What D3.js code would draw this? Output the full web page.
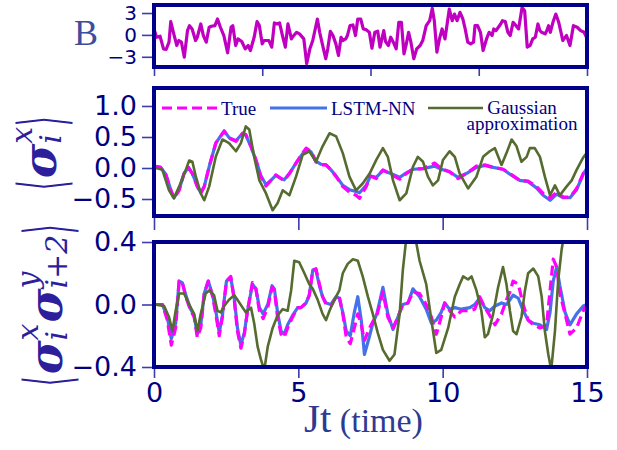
<!DOCTYPE html>
<html><head><meta charset="utf-8">
<script src="https://cdn.jsdelivr.net/npm/d3@7"></script>
<style>html,body{margin:0;padding:0;background:#fff;}svg{display:block;}</style>
</head><body>
<svg id="chart" width="617" height="450"></svg>
<script>
// ---------- data ----------
const driveT = [0,0.09,0.21,0.33,0.42,0.52,0.58,0.70,0.79,0.86,0.95,1.05,1.16,1.23,1.32,1.44,1.50,1.62,1.71,1.81,1.91,1.99,2.11,2.20,2.30,2.42,2.55,2.67,2.73,2.83,2.91,3.04,3.16,3.26,3.34,3.47,3.57,3.65,3.75,3.81,3.90,3.98,4.08,4.17,4.27,4.35,4.45,4.55,4.64,4.76,4.82,4.94,5.04,5.19,5.29,5.40,5.50,5.66,5.74,5.87,5.95,6.02,6.11,6.20,6.30,6.39,6.48,6.54,6.64,6.70,6.79,6.89,6.98,7.06,7.16,7.25,7.34,7.46,7.55,7.65,7.75,7.83,7.96,8.02,8.12,8.20,8.29,8.39,8.48,8.57,8.66,8.73,8.82,8.90,9.00,9.10,9.22,9.31,9.43,9.55,9.64,9.71,9.80,9.89,9.98,10.08,10.23,10.33,10.41,10.50,10.60,10.70,10.78,10.87,10.97,11.07,11.12,11.21,11.31,11.40,11.52,11.61,11.71,11.77,11.85,11.93,12.01,12.07,12.17,12.26,12.34,12.44,12.54,12.63,12.75,12.84,12.93,13.03,13.12,13.21,13.30,13.37,13.43,13.55,13.61,13.67,13.73,13.82,13.92,14.02,14.10,14.16,14.29,14.41,14.53,14.66,14.78,14.90,15.0];
const driveV = [0.82,-0.32,-0.18,-1.91,-2.0,-1.0,1.82,-0.09,-1.45,-0.77,-1.0,-3.05,0.59,1.27,0.82,-0.77,-0.32,1.5,-0.09,-1.0,1.05,1.18,1.27,2.18,1.05,-0.09,-2.45,1.05,1.27,-1.45,-0.55,-0.91,-1.91,-1.45,-2.14,-0.32,1.82,1.27,-1.23,-0.77,-0.77,-0.77,-1.68,1.64,1.5,1.64,-0.09,-1.68,1.5,-0.55,-0.18,0.36,0.14,-0.55,-3.95,-1.91,-0.77,2.18,0.36,-1.91,-3.27,-1.91,0.5,-0.09,-1.23,-2.82,-0.32,-0.77,-0.55,-0.09,1.27,1.36,-0.09,2.18,2.18,0.82,0.73,0.36,-1.82,0.36,0.5,-1.68,0.59,-0.91,-1.45,-0.32,-1.0,-1.91,1.73,1.73,-2.59,-1.45,0.36,-1.0,-3.27,-1.91,-1.45,-0.77,1.27,1.95,3.64,1.95,-2.36,-0.55,0.82,-0.55,3.55,1.95,2.86,1.95,3.09,2.18,0.82,-1.0,-1.23,-1.0,1.27,1.27,0.36,-2.14,-0.55,0.36,-0.09,0.82,0.59,1.05,1.5,1.95,1.82,0.36,-0.09,1.73,1.27,0.82,3.77,3.32,-1.68,-1.45,-0.55,-0.32,1.5,0.59,0.36,0.14,0.59,1.27,0.36,1.73,2.86,1.73,0.36,-0.77,-0.09,-1.45,1.27,1.05,0.59,0.36,-0.45];

const sxT = [0,0.23,0.41,0.58,0.69,0.87,1.04,1.19,1.33,1.50,1.62,1.74,1.91,2.14,2.43,2.60,2.84,3.07,3.18,3.36,3.53,3.70,3.88,4.05,4.22,4.40,4.51,4.69,4.92,5.15,5.27,5.44,5.61,5.79,5.96,6.13,6.31,6.54,6.77,7.00,7.12,7.35,7.50,7.70,7.93,8.16,8.51,8.74,8.97,9.32,9.72,9.95,10.24,10.53,10.82,11.17,11.46,11.75,12.09,12.33,12.67,12.96,13.25,13.48,13.72,13.95,14.18,14.41,14.64,14.87,15];
const sxTrue = [0.03,0.01,-0.11,-0.36,-0.49,-0.36,-0.09,0.01,-0.09,-0.30,-0.41,-0.30,0.02,0.40,0.59,0.48,0.43,0.56,0.54,0.35,0.13,-0.14,-0.29,-0.20,-0.11,-0.17,-0.20,-0.09,0.08,0.24,0.32,0.27,0.10,0.05,0.05,-0.03,-0.14,-0.30,-0.39,-0.44,-0.49,-0.30,-0.13,-0.17,-0.03,-0.09,-0.18,-0.09,-0.02,-0.01,0.08,-0.01,-0.06,-0.17,-0.09,0.03,0.05,0.01,-0.02,-0.09,-0.20,-0.21,-0.30,-0.41,-0.49,-0.39,-0.47,-0.47,-0.33,-0.09,0.02];
const sxLSTM = [0.03,0.01,-0.10,-0.35,-0.48,-0.35,-0.09,0.01,-0.09,-0.29,-0.40,-0.30,0.02,0.40,0.60,0.49,0.44,0.56,0.53,0.34,0.13,-0.12,-0.27,-0.20,-0.12,-0.17,-0.19,-0.09,0.08,0.23,0.30,0.26,0.11,0.06,0.05,-0.03,-0.13,-0.28,-0.35,-0.38,-0.40,-0.28,-0.13,-0.15,-0.04,-0.08,-0.15,-0.08,-0.02,-0.01,0.03,-0.02,-0.06,-0.15,-0.09,0.01,0.04,0.01,-0.02,-0.10,-0.20,-0.22,-0.32,-0.44,-0.52,-0.42,-0.48,-0.48,-0.35,-0.10,0.00];
const sxGaussT = [0,0.29,0.52,0.69,0.87,1.10,1.22,1.33,1.45,1.62,1.74,1.91,2.14,2.37,2.60,2.84,3.01,3.18,3.30,3.47,3.65,3.88,4.11,4.28,4.46,4.69,4.92,5.15,5.38,5.61,5.84,6.08,6.31,6.54,6.77,7.00,7.23,7.47,7.70,7.93,8.10,8.28,8.51,8.74,8.97,9.14,9.32,9.49,9.66,9.84,10.01,10.24,10.42,10.59,10.88,11.17,11.40,11.63,11.81,12.04,12.21,12.39,12.56,12.73,12.91,13.02,13.19,13.37,13.54,13.72,13.89,14.06,14.29,14.47,14.64,14.87,15];
const sxGauss = [0.01,-0.03,-0.36,-0.49,-0.30,-0.03,0.12,0.10,-0.14,-0.41,-0.52,-0.30,0.18,0.46,0.40,0.27,0.40,0.67,0.62,0.18,-0.20,-0.41,-0.68,-0.57,-0.36,-0.44,-0.14,0.21,0.27,0.10,0.35,0.56,0.51,0.24,-0.14,-0.36,-0.25,-0.09,0.13,0.32,0.18,-0.20,-0.52,-0.41,0.02,0.18,0.10,-0.14,-0.28,-0.20,0.13,0.27,0.18,-0.09,-0.33,-0.14,0.18,0.27,0.32,0.05,0.24,0.46,0.35,0.10,0.18,0.32,0.32,0.18,-0.14,-0.44,-0.28,-0.44,-0.30,-0.20,-0.03,0.17,0.25];

const cT = [0,0.29,0.46,0.60,0.75,0.87,0.98,1.10,1.27,1.39,1.50,1.62,1.74,1.88,2.03,2.14,2.26,2.37,2.51,2.66,2.78,2.89,3.01,3.13,3.24,3.41,3.53,3.65,3.78,3.94,4.09,4.17,4.28,4.40,4.51,4.63,4.80,4.98,5.09,5.27,5.38,5.50,5.61,5.73,5.84,5.96,6.13,6.31,6.42,6.54,6.66,6.80,6.94,7.06,7.18,7.29,7.47,7.58,7.72,7.93,8.10,8.28,8.45,8.62,8.80,8.97,9.20,9.43,9.61,9.78,9.95,10.07,10.24,10.42,10.65,10.94,11.11,11.28,11.46,11.63,11.81,12.04,12.21,12.33,12.44,12.62,12.79,12.96,13.14,13.37,13.60,13.72,13.83,13.95,14.06,14.24,14.41,14.64,14.87,15];
const cTrue = [0,0,-0.10,-0.26,-0.15,0.15,0.14,0.05,-0.04,-0.08,-0.21,-0.15,0.07,0.15,0.05,-0.06,-0.20,-0.08,0.15,0.18,0.03,-0.17,-0.28,-0.19,-0.04,0.14,0.10,-0.04,-0.09,-0.02,0.11,0.09,-0.08,-0.19,-0.21,-0.15,-0.08,-0.02,-0.02,0.01,0.06,0.22,0.23,0.13,0.05,0.00,-0.01,0.05,0.05,-0.06,-0.21,-0.25,-0.15,-0.06,-0.13,-0.23,-0.15,-0.11,-0.07,0.08,-0.08,-0.15,-0.08,0.00,0.01,0.08,0.07,0.00,-0.08,-0.19,-0.08,0.01,-0.04,-0.08,-0.04,-0.04,-0.03,0.05,-0.02,-0.07,-0.13,-0.06,0.03,0.08,0.15,0.13,0.00,-0.10,-0.13,-0.15,-0.13,0.09,0.29,0.24,0.07,-0.06,-0.19,-0.15,-0.04,0.00];
const cLSTM = [0,0,-0.08,-0.22,-0.12,0.15,0.14,0.06,-0.03,-0.07,-0.19,-0.13,0.07,0.15,0.06,-0.04,-0.18,-0.07,0.15,0.17,0.04,-0.15,-0.26,-0.18,-0.04,0.13,0.10,-0.02,-0.06,0.00,0.12,0.10,-0.05,-0.17,-0.19,-0.13,-0.07,-0.02,-0.02,0.01,0.06,0.22,0.22,0.12,0.05,0.01,0.00,0.05,0.04,-0.05,-0.17,-0.20,-0.05,0.05,-0.10,-0.32,-0.20,-0.12,-0.06,0.11,-0.06,-0.16,-0.08,0.00,0.01,0.10,0.05,-0.03,-0.12,-0.10,-0.05,0.01,-0.03,-0.02,-0.03,-0.02,0.00,0.04,-0.02,-0.04,-0.01,0.01,0.00,0.03,0.06,0.04,-0.04,-0.10,-0.12,-0.13,-0.16,-0.05,0.15,0.24,0.12,-0.05,-0.13,-0.06,-0.01,0.00];
const cGaussT = [0,0.35,0.52,0.64,0.75,0.87,1.04,1.22,1.39,1.50,1.62,1.79,1.91,2.08,2.20,2.31,2.43,2.60,2.78,2.89,3.07,3.18,3.36,3.47,3.59,3.70,3.82,3.94,4.11,4.28,4.46,4.63,4.75,4.86,5.03,5.21,5.38,5.50,5.67,5.84,5.96,6.08,6.25,6.42,6.54,6.71,6.89,7.06,7.23,7.41,7.58,7.75,7.93,8.16,8.33,8.51,8.62,8.72,8.82,8.95,9.09,9.20,9.43,9.61,9.78,9.95,10.19,10.42,10.59,10.71,10.88,11.00,11.17,11.34,11.46,11.57,11.75,11.92,12.09,12.21,12.33,12.44,12.56,12.73,12.85,12.96,13.14,13.31,13.43,13.54,13.66,13.76,13.89,14.00,14.12,14.24,14.40,14.60,14.80,15];
const cGauss = [0,-0.01,-0.08,-0.17,-0.04,0.07,0.07,0.00,-0.06,-0.17,-0.06,0.07,0.09,0.06,-0.04,-0.05,-0.01,0.03,0.06,0.03,-0.02,-0.05,-0.02,-0.12,-0.27,-0.35,-0.42,-0.27,-0.15,-0.07,-0.03,-0.04,0.09,0.28,0.27,0.20,0.13,0.10,0.03,-0.06,-0.10,-0.04,0.03,0.09,0.20,0.26,0.29,0.28,0.18,0.05,-0.06,-0.18,-0.29,-0.36,-0.32,-0.06,0.22,0.39,0.50,0.52,0.39,0.28,0.13,-0.10,-0.31,-0.29,-0.15,0.05,0.13,0.18,0.16,0.18,0.09,-0.04,-0.21,-0.19,-0.06,0.11,0.24,0.13,-0.04,-0.17,-0.19,-0.08,0.09,0.20,0.23,0.18,0.05,-0.17,-0.32,-0.42,-0.17,0.15,0.35,0.48,0.62,0.72,0.78,0.80];

const topTicks = [-3, 0, 3];
const topXTicks = [0, 3.75, 7.5, 11.25, 15];
const midTicks = [-0.5, 0.0, 0.5, 1.0];
const botTicks = [-0.4, 0.0, 0.4];
const xTicks = [0, 5, 10, 15];
const legendLabels = ["True", "LSTM-NN", "Gaussian", "approximation"];

// ---------- styles ----------
const C = {
  frame: "#00008b", tick: "#3c3cac", tickText: "#000080",
  drive: "#c000c0", tru: "#ff00ff", lstm: "#4472e8", gauss: "#556b2f",
  ylab: "#2d1f9b", panelLab: "#3e4c9e", xlab: "#2e3a92"
};
const svg = d3.select("#chart");
const x = d3.scaleLinear().domain([0, 15]).range([154, 587]);

const panels = {
  top: {y: d3.scaleLinear().domain([-4.4, 4.1]).range([67, 5])},
  mid: {y: d3.scaleLinear().domain([-0.774, 1.29]).range([216, 88])},
  bot: {y: d3.scaleLinear().domain([-0.4, 0.4]).range([367, 242])}
};
const defs = svg.append("defs");
Object.entries(panels).forEach(([k, p]) => {
  const [y1, y0] = p.y.range();
  defs.append("clipPath").attr("id", "clip-" + k).append("rect")
    .attr("x", x.range()[0]).attr("y", y0).attr("width", x.range()[1] - x.range()[0]).attr("height", y1 - y0);
  p.g = svg.append("g").attr("clip-path", `url(#clip-${k})`);
});

function drawLine(p, T, V, color, width, dash) {
  const line = d3.line().x(d => x(d[0])).y(d => p.y(d[1])).curve(d3.curveLinear);
  const path = p.g.append("path").datum(d3.zip(T, V)).attr("d", line)
    .attr("fill", "none").attr("stroke", color).attr("stroke-width", width)
    .attr("stroke-linejoin", "round").attr("stroke-linecap", "butt");
  if (dash) path.attr("stroke-dasharray", dash);
}

drawLine(panels.top, driveT, driveV, C.drive, 3.2);
drawLine(panels.mid, sxT, sxLSTM, C.lstm, 3.2);
drawLine(panels.mid, sxT, sxTrue, C.tru, 3.2, "10,5");
drawLine(panels.mid, sxGaussT, sxGauss, C.gauss, 2.6);
drawLine(panels.bot, cT, cLSTM, C.lstm, 3.2);
drawLine(panels.bot, cT, cTrue, C.tru, 3.2, "10,5");
drawLine(panels.bot, cGaussT, cGauss, C.gauss, 2.6);

// ---------- axes ----------
function styleAxis(g, fs) {
  g.select(".domain").remove();
  g.selectAll(".tick line").attr("stroke", C.tick).attr("stroke-width", 1.6);
  g.selectAll(".tick text").attr("fill", C.tickText).attr("font-size", fs)
    .attr("font-family", "DejaVu Sans");
}
const fmt1 = d3.format(".1f"), fmt0 = d3.format("d");
[["top", topTicks, fmt0, 20], ["mid", midTicks, fmt1, 27], ["bot", botTicks, fmt1, 27]].forEach(([k, ticks, f, fs]) => {
  const g = svg.append("g").attr("transform", "translate(152,0)")
    .call(d3.axisLeft(panels[k].y).tickValues(ticks).tickFormat(f).tickSize(10).tickPadding(5));
  styleAxis(g, fs);
});
styleAxis(svg.append("g").attr("transform", "translate(0,69)")
  .call(d3.axisBottom(x).tickValues(topXTicks).tickFormat("").tickSize(7)), 27);
styleAxis(svg.append("g").attr("transform", "translate(0,218)")
  .call(d3.axisBottom(x).tickValues(xTicks).tickFormat("").tickSize(12)), 27);
styleAxis(svg.append("g").attr("transform", "translate(0,369)")
  .call(d3.axisBottom(x).tickValues(xTicks).tickFormat(fmt0).tickSize(9).tickPadding(5)), 27);

// frames
Object.values(panels).forEach(p => {
  const [y1, y0] = p.y.range();
  svg.append("rect").attr("x", x.range()[0]).attr("y", y0)
    .attr("width", x.range()[1] - x.range()[0]).attr("height", y1 - y0)
    .attr("fill", "none").attr("stroke", C.frame).attr("stroke-width", 4);
});

// ---------- legend ----------
const lg = svg.append("g");
const legY = 108;
const legItems = [
  {x0: 162, x1: 217, color: C.tru, w: 3.2, dash: "10,5", label: legendLabels[0], tx: 221},
  {x0: 270, x1: 327, color: C.lstm, w: 3.2, dash: null, label: legendLabels[1], tx: 331},
  {x0: 428, x1: 483, color: C.gauss, w: 2.6, dash: null, label: null}
];
const legFont = 19;
legItems.forEach(it => {
  const l = lg.append("line").attr("x1", it.x0).attr("x2", it.x1).attr("y1", legY).attr("y2", legY)
    .attr("stroke", it.color).attr("stroke-width", it.w);
  if (it.dash) l.attr("stroke-dasharray", it.dash);
  if (it.label) lg.append("text").attr("x", it.tx).attr("y", 115).text(it.label)
    .attr("font-family", "Liberation Serif").attr("font-size", legFont).attr("fill", C.tickText);
});
lg.append("text").attr("x", 522).attr("y", 114).attr("text-anchor", "middle").text(legendLabels[2])
  .attr("font-family", "Liberation Serif").attr("font-size", legFont).attr("fill", C.tickText);
lg.append("text").attr("x", 522).attr("y", 130).attr("text-anchor", "middle").text(legendLabels[3])
  .attr("font-family", "Liberation Serif").attr("font-size", legFont).attr("fill", C.tickText);

// ---------- labels ----------
svg.append("text").attr("x", 74).attr("y", 45).text("B")
  .attr("font-family", "Liberation Serif").attr("font-size", 36).attr("fill", C.panelLab);

const xl = svg.append("text").attr("x", 304).attr("y", 432)
  .attr("font-family", "Liberation Serif").attr("fill", C.xlab);
xl.append("tspan").attr("font-size", 41).text("Jt");
xl.append("tspan").attr("font-size", 34).text(" (time)");

function mathLabel(cx, cy, parts) {
  const g = svg.append("g").attr("transform", `translate(${cx},${cy}) rotate(-90)`);
  const inner = g.append("g");
  let pos = 0;
  const add = (txt, size, style, weight, family, yy) => inner.append("text")
    .attr("x", pos).attr("y", yy).text(txt).attr("font-size", size)
    .attr("font-style", style).attr("font-weight", weight)
    .attr("font-family", family).attr("fill", C.ylab);
  parts.forEach(p => {
    if (p.sup !== undefined) {
      const a = add(p.sup, 30, "italic", "normal", "DejaVu Serif", -24);
      const b = add(p.sub, 30, "italic", "normal", "DejaVu Serif", 5);
      pos += Math.max(a.node().getComputedTextLength(), b.node().getComputedTextLength()) + 1;
    } else if (p.bracket) {
      const t = inner.append("text").text(p.t)
        .attr("transform", `translate(${pos},8) scale(0.55,1.45)`)
        .attr("font-size", 44).attr("font-weight", 200)
        .attr("font-family", "DejaVu Sans ExtraLight, DejaVu Sans").attr("fill", C.ylab);
      pos += t.node().getComputedTextLength() * 0.55 + (p.kern || 0);
    } else {
      const t = add(p.t, p.size, "italic", "bold", "DejaVu Serif", 0);
      pos += t.node().getComputedTextLength() + (p.kern || 0);
    }
  });
  inner.attr("transform", `translate(${-pos / 2},0)`);
}
mathLabel(56, 153, [
  {t: "⟨", bracket: true, kern: 2},
  {t: "σ", size: 47},
  {sup: "x", sub: "i"},
  {t: "⟩", bracket: true}
]);
mathLabel(62, 305, [
  {t: "⟨", bracket: true, kern: 2},
  {t: "σ", size: 46},
  {sup: "x", sub: "i"},
  {t: "σ", size: 46},
  {sup: "y", sub: "i+2"},
  {t: "⟩", bracket: true}
]);
</script>
</body></html>
